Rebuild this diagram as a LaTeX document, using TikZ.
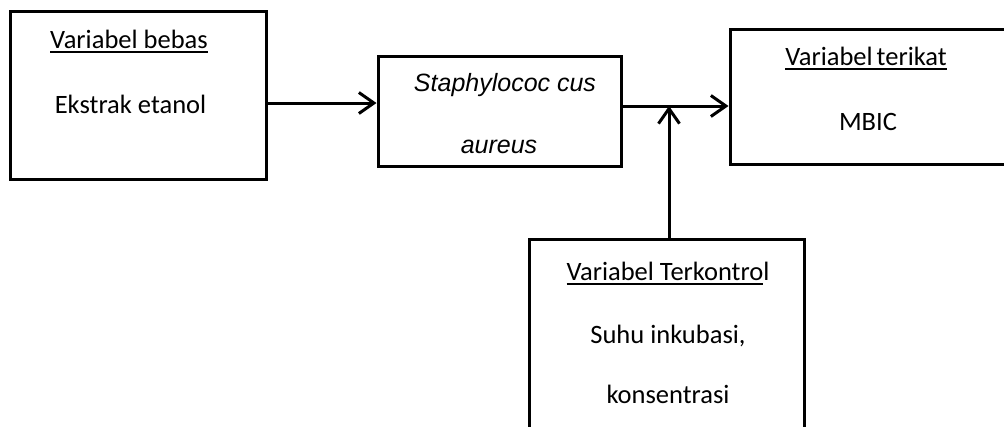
\documentclass[tikz,border=0pt]{standalone}
\usepackage{fontspec}
\setmainfont{Carlito}
\newfontfamily\arialfont{Liberation Sans}
\usetikzlibrary{arrows.meta}
\newcommand\myul[1]{\setbox0\hbox{#1}\rlap{\rule[-4.7pt]{\wd0}{2pt}}\box0}
\tikzset{
  box/.style={draw, line width=3pt, rectangle, inner sep=0pt},
  txt/.style={anchor=base, inner sep=0pt, font=\fontsize{26.5}{30}\selectfont},
  itxt/.style={anchor=base, inner sep=0pt, font=\arialfont\itshape\fontsize{25}{30}\selectfont},
  arr/.style={line width=3pt, -{Straight Barb[length=15pt,width=21pt]}},
}
\begin{document}
\begin{tikzpicture}[x=1pt,y=-1pt]
\useasboundingbox (0,0) rectangle (1004,426);
\clip (0,0) rectangle (1004,426);
% boxes
\node[box, minimum width=256pt, minimum height=168pt] (b1) at (138,95) {};
\node[box, minimum width=243pt, minimum height=110pt] (b2) at (499.5,111) {};
\node[box, minimum width=280pt, minimum height=135pt] (b3) at (870,96.5) {};
\node[box, minimum width=275pt, minimum height=201pt] (b4) at (666.5,339.5) {};
% texts
\node[txt] (t1a) at (129,48) {\myul{Variabel bebas}};
\node[txt] (t1b) at (130.5,113) {Ekstrak etanol};
\node[itxt] (t2a) at (505,91) {Staphylococ cus};
\node[itxt] (t2b) at (499,153) {aureus};
\node[txt] (t3a) at (866,65) {\myul{Variabel\hspace{-2pt} terikat}};
\node[txt] (t3b) at (868,130) {MBIC};
\node[txt] (t4a) at (668,280) {\myul{Variabel Terkontro}l};
\node[txt] (t4b) at (668,343) {Suhu inkubasi,};
\node[txt] (t4c) at (668,403) {konsentrasi};
% connectors
\coordinate (j) at (669,106);
\draw[arr] ([yshift=-8pt]b1.east) -- ([yshift=8pt]b2.west);
\draw[arr] ([yshift=5pt]b2.east) -- (b3.west |- j);
\draw[arr] (b4.north -| j) -- (j);
\end{tikzpicture}
\end{document}
